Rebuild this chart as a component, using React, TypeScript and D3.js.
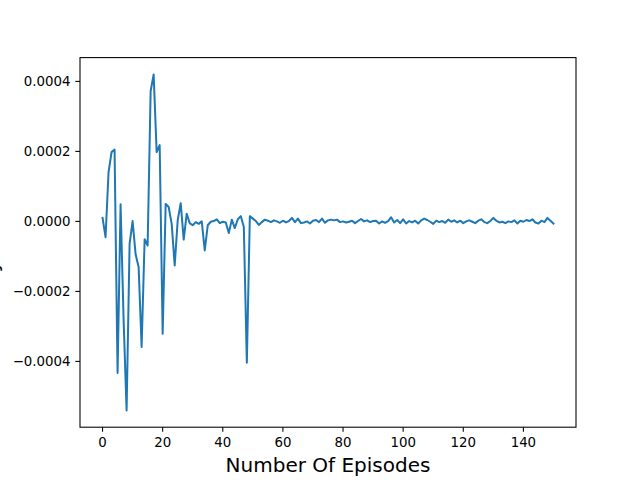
import React from "react";
import * as d3 from "d3";

const values: number[] = [
  0.00001, -0.000045, 0.000141, 0.000198, 0.000205, -0.000433, 0.000049, -0.00028, -0.00054, -0.000064,
  0.000001, -0.000094, -0.00013, -0.000359, -0.000051, -0.000069, 0.000372, 0.00042, 0.000198, 0.000218,
  -0.000321, 0.00005, 0.000041, -0.000007, -0.000126, 0.000003, 0.000052, -0.000052, 0.000022, -0.000005,
  -0.000011, -0.000002, -0.000007, 0.0, -0.000083, -0.000011, -0.000001, 0.000001, 0.000006, -0.000005,
  -0.000001, -0.000003, -0.000033, 0.000005, -0.000019, 0.000006, 0.000015, -0.000016, -0.000404, 0.000015,
  0.000008, 0.000001, -0.00001, -0.000002, 0.000005, 0.000002, -0.000002, 0.000003, 0.0, -0.000004,
  0.000002, -0.000003, 0.000001, 0.00001, -0.000002, 0.000008, -0.000005, -0.000003, 0.0, -0.000006,
  0.000002, 0.000004, -0.000002, 0.000008, -0.000004, 0.000003, 0.000005, 0.000003, 0.000005, -0.000002,
  0.0, -0.000003, -0.000001, 0.000002, -0.000005, 0.000001, 0.000007, 0.0, 0.000003, -0.000002,
  0.000001, 0.000002, -0.000006, 0.0, -0.000004, 0.000001, 0.000012, -0.000003, 0.000004, -0.000005,
  0.000006, -0.000006, 0.000001, -0.000003, 0.000002, -0.000006, 0.000003, 0.000008, 0.000004, -0.000001,
  -0.000007, 0.000002, -0.000002, 0.000001, -0.000004, 0.000005, -0.000001, 0.000003, -0.000003, 0.000002,
  -0.000005, 0.0, 0.000003, -0.000001, -0.000005, 0.000002, 0.000006, -0.000002, -0.000005, 0.000001,
  0.00001, 0.000002, -0.000003, -0.000001, -0.000005, 0.0, -0.000002, 0.000003, -0.000006, 0.000002,
  -0.000001, 0.000004, 0.000001, 0.000006, -0.000003, -0.000006, 0.000002, -0.000002, 0.00001, 0.000002,
  -0.000006,
];

const xTicks: number[] = [0, 20, 40, 60, 80, 100, 120, 140];
const yTicks: number[] = [-0.0004, -0.0002, 0, 0.0002, 0.0004];
const xLabel = "Number Of Episodes";
const yLabel = "Policy Gradient";

const W = 640;
const H = 480;
const left = 80;
const right = 576;
const top = 57.6;
const bottom = 427.2;
const font = "DejaVu Sans, sans-serif";

export default function App() {
  const n = values.length - 1;
  const xPad = n * 0.05;
  const x = d3.scaleLinear().domain([-xPad, n + xPad]).range([left, right]);
  const [mn, mx] = d3.extent(values) as [number, number];
  const yPad = (mx - mn) * 0.05;
  const y = d3.scaleLinear().domain([mn - yPad, mx + yPad]).range([bottom, top]);
  const line = d3
    .line<number>()
    .x((_, i) => x(i))
    .y((d) => y(d));
  const fmt = d3.format(".4f");

  return (
    <svg
      width={W}
      height={H}
      style={{ position: "absolute", left: 0, top: 0, background: "#fff" }}
      fontFamily={font}
    >
      <rect x={0} y={0} width={W} height={H} fill="#fff" />
      <path d={line(values) ?? ""} fill="none" stroke="#1f77b4" strokeWidth={2} strokeLinejoin="round" strokeLinecap="square" />
      <rect x={left} y={top} width={right - left} height={bottom - top} fill="none" stroke="#000" strokeWidth={1.07} />
      {xTicks.map((t) => (
        <g key={"x" + t}>
          <line x1={x(t)} x2={x(t)} y1={bottom} y2={bottom + 4.67} stroke="#000" strokeWidth={1.07} />
          <text x={x(t)} y={bottom + 19.5} fontSize={13.33} textAnchor="middle" fill="#000">
            {t}
          </text>
        </g>
      ))}
      {yTicks.map((t) => (
        <g key={"y" + t}>
          <line x1={left - 4.67} x2={left} y1={y(t)} y2={y(t)} stroke="#000" strokeWidth={1.07} />
          <text x={left - 9.5} y={y(t)} dy="0.35em" fontSize={13.33} textAnchor="end" fill="#000">
            {fmt(t)}
          </text>
        </g>
      ))}
      <text x={(left + right) / 2} y={472} fontSize={20} textAnchor="middle" fill="#000">
        {xLabel}
      </text>
      <text
        transform={`translate(-2, ${(top + bottom) / 2}) rotate(-90)`}
        fontSize={20}
        textAnchor="middle"
        fill="#000"
      >
        {yLabel}
      </text>
    </svg>
  );
}
